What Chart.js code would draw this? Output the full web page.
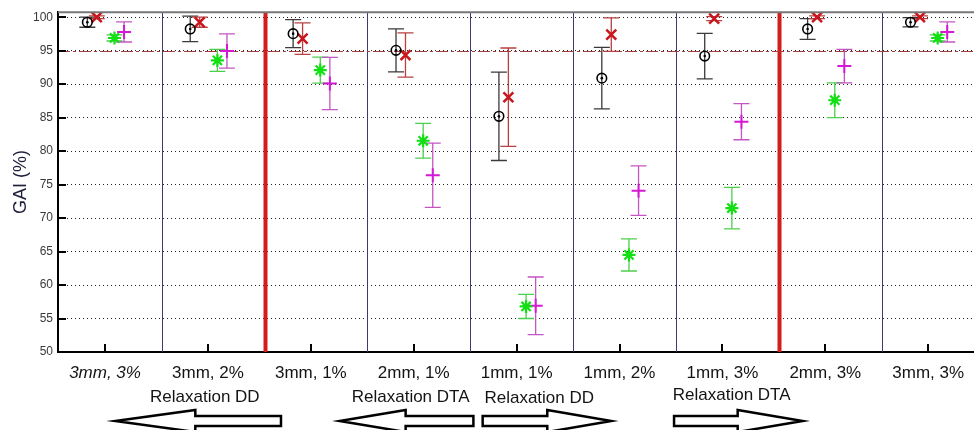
<!DOCTYPE html>
<html>
<head>
<meta charset="utf-8">
<script src="https://cdn.jsdelivr.net/npm/chart.js@4.4.0/dist/chart.umd.min.js"></script>
<style>
  body { margin: 0; background: #fff; }
  #wrap { width: 974px; height: 430px; position: relative; }
</style>
</head>
<body>
<div id="wrap"><canvas id="Chart"></canvas></div>
<script>
categories = ["3mm, 3%", "3mm, 2%", "3mm, 1%", "2mm, 1%", "1mm, 1%", "1mm, 2%", "1mm, 3%", "2mm, 3%", "3mm, 3%"];
yTicks = [50, 55, 60, 65, 70, 75, 80, 85, 90, 95, 100];

blackValues = [99.25, 98.25, 97.55, 95.05, 85.2, 90.9, 94.2, 98.25, 99.25];
blackErr = [0.75, 1.9, 2.1, 3.2, 6.6, 4.6, 3.4, 1.55, 0.7];
redValues = [100, 99.25, 96.8, 94.35, 88.05, 97.4, 99.8, 100, 100];
redErr = [0.2, 0.75, 2.35, 3.3, 7.35, 2.5, 0.3, 0.2, 0.2];
greenValues = [96.9, 93.55, 92.1, 81.55, 56.8, 64.5, 71.5, 87.6, 96.9];
greenErr = [0.45, 1.65, 1.95, 2.6, 1.8, 2.4, 3.1, 2.6, 0.45];
magentaValues = [97.8, 94.95, 90.1, 76.4, 56.9, 74.1, 84.4, 92.7, 97.8];
magentaErr = [1.5, 2.55, 3.9, 4.8, 4.3, 3.7, 2.7, 2.5, 1.5];

threshold = 95;
separators = [0.55, 1.55, 2.55, 3.55, 4.55, 5.55, 6.55, 7.55];
thickSeparators = [1.55, 6.55];

relaxLabels = ["Relaxation DD", "Relaxation DTA", "Relaxation DD", "Relaxation DTA"];

const FONT = "'Liberation Sans', Arial, sans-serif";

// offsets of the four series inside a category
const offsets = [-0.172, -0.08, 0.092, 0.185];

function makePoints(values, k) {
    return values.map((v, i) => ({ x: i + offsets[k], y: v }));
}

const series = [
    { values: blackValues, err: blackErr, bar: "#3a3a3a" },
    { values: redValues, err: redErr, bar: "#b84040" },
    { values: greenValues, err: greenErr, bar: "#4ccf4c" },
    { values: magentaValues, err: magentaErr, bar: "#c456c4" }
];

const notes = [
    { at: 0.97, y: 397, from: 1.71, to: 0.1, head: 80 },
    { at: 2.97, y: 397, from: 3.58, to: 2.28, head: 66 },
    { at: 4.22, y: 398, from: 3.67, to: 4.92, head: 64 },
    { at: 6.09, y: 395, from: 5.53, to: 6.78, head: 65 }
];

const decorPlugin = {
    id: "decor",
    beforeDatasetsDraw(chart) {
        const ctx = chart.ctx;
        const x = chart.scales.x;
        const y = chart.scales.y;
        const area = chart.chartArea;
        ctx.save();

        separators.forEach(s => {
            const px = Math.round(x.getPixelForValue(s)) + 0.5;
            const thick = thickSeparators.includes(s);
            ctx.beginPath();
            ctx.lineWidth = thick ? 4 : 1;
            ctx.strokeStyle = thick ? "#d41c1c" : "#3c3c70";
            ctx.moveTo(px, area.top);
            ctx.lineTo(px, area.bottom);
            ctx.stroke();
        });

        const ty = Math.round(y.getPixelForValue(threshold)) + 0.5;
        ctx.beginPath();
        ctx.setLineDash([12, 3, 3, 3]);
        ctx.lineWidth = 1.2;
        ctx.strokeStyle = "#a83c3c";
        ctx.moveTo(area.left, ty);
        ctx.lineTo(area.right, ty);
        ctx.stroke();
        ctx.setLineDash([]);

        series.forEach((s, k) => {
            ctx.strokeStyle = s.bar;
            ctx.lineWidth = 1.3;
            s.values.forEach((v, i) => {
                const px = x.getPixelForValue(i + offsets[k]);
                const top = y.getPixelForValue(v + s.err[i]);
                const bot = y.getPixelForValue(v - s.err[i]);
                ctx.beginPath();
                ctx.moveTo(px, top);
                ctx.lineTo(px, bot);
                ctx.moveTo(px - 8, top);
                ctx.lineTo(px + 8, top);
                ctx.moveTo(px - 8, bot);
                ctx.lineTo(px + 8, bot);
                ctx.stroke();
            });
        });
        ctx.restore();
    },
    afterDraw(chart) {
        const ctx = chart.ctx;
        const x = chart.scales.x;
        const y = chart.scales.y;
        const area = chart.chartArea;
        ctx.save();

        // top frame line
        ctx.beginPath();
        ctx.strokeStyle = "#777";
        ctx.lineWidth = 2;
        ctx.moveTo(area.left, area.top);
        ctx.lineTo(area.right, area.top);
        ctx.stroke();

        // inside tick marks
        ctx.strokeStyle = "#000";
        ctx.lineWidth = 2;
        yTicks.forEach(t => {
            const py = Math.round(y.getPixelForValue(t));
            ctx.beginPath();
            ctx.moveTo(area.left, py);
            ctx.lineTo(area.left + 8, py);
            ctx.stroke();
        });
        categories.forEach((c, i) => {
            const px = Math.round(x.getPixelForValue(i));
            ctx.beginPath();
            ctx.moveTo(px, area.bottom);
            ctx.lineTo(px, area.bottom - 8);
            ctx.stroke();
        });

        // relaxation notes and arrows
        ctx.font = "17px " + FONT;
        ctx.textAlign = "center";
        ctx.textBaseline = "middle";
        notes.forEach((n, i) => {
            ctx.fillStyle = "#141414";
            ctx.fillText(relaxLabels[i], x.getPixelForValue(n.at), n.y);
            drawArrow(ctx, x.getPixelForValue(n.from), x.getPixelForValue(n.to), 421, n.head);
        });
        ctx.restore();
    }
};

function drawArrow(ctx, tail, tip, cy, headLen) {
    const dir = tip > tail ? 1 : -1;
    const base = tip - dir * headLen;
    ctx.beginPath();
    ctx.moveTo(tail, cy - 5);
    ctx.lineTo(base, cy - 5);
    ctx.lineTo(base, cy - 11);
    ctx.lineTo(tip, cy);
    ctx.lineTo(base, cy + 11);
    ctx.lineTo(base, cy + 5);
    ctx.lineTo(tail, cy + 5);
    ctx.closePath();
    ctx.fillStyle = "#fff";
    ctx.fill();
    ctx.lineWidth = 2.5;
    ctx.strokeStyle = "#000";
    ctx.stroke();
}

function createChart() {
    new Chart("Chart", {
        type: "scatter",
        data: {
            datasets: [
                {
                    data: makePoints(blackValues, 0),
                    pointStyle: "circle",
                    pointRadius: 4.8,
                    borderColor: "#000",
                    backgroundColor: "rgba(0,0,0,0)",
                    borderWidth: 1.6
                },
                {
                    data: makePoints(blackValues, 0),
                    pointStyle: "circle",
                    pointRadius: 1.3,
                    borderColor: "#000",
                    backgroundColor: "#000",
                    borderWidth: 0
                },
                {
                    data: makePoints(redValues, 1),
                    pointStyle: "crossRot",
                    pointRadius: 7,
                    borderColor: "#c8161c",
                    borderWidth: 2.5
                },
                {
                    data: makePoints(greenValues, 2),
                    pointStyle: "star",
                    pointRadius: 6.5,
                    borderColor: "#12e012",
                    borderWidth: 2.2
                },
                {
                    data: makePoints(magentaValues, 3),
                    pointStyle: "cross",
                    pointRadius: 7,
                    borderColor: "#d418d4",
                    borderWidth: 2
                }
            ]
        },
        options: {
            responsive: true,
            maintainAspectRatio: false,
            animation: false,
            events: [],
            layout: { autoPadding: false, padding: { top: 11, left: 0, right: 0, bottom: 0 } },
            plugins: { legend: { display: false }, tooltip: { enabled: false } },
            scales: {
                x: {
                    type: "linear",
                    min: -0.457,
                    max: 8.445,
                    afterBuildTicks: scale => { scale.ticks = categories.map((c, i) => ({ value: i })); },
                    afterFit: scale => {
                        scale.height = 78;
                        scale.paddingLeft = 0;
                        scale.paddingRight = 0;
                    },
                    grid: { display: false, drawTicks: false },
                    border: { display: true, color: "#000", width: 2 },
                    ticks: {
                        autoSkip: false,
                        maxRotation: 0,
                        padding: 11,
                        color: "#141414",
                        font: ctx => ({ family: FONT, size: 17, style: ctx.index === 0 ? "italic" : "normal" }),
                        callback: v => categories[v]
                    }
                },
                y: {
                    min: 50,
                    max: 100.75,
                    afterBuildTicks: scale => { scale.ticks = yTicks.map(v => ({ value: v })); },
                    afterFit: scale => { scale.width = 58; },
                    grid: { color: "#222", lineWidth: 1, drawTicks: false },
                    border: { display: true, color: "#000", width: 2, dash: [1, 3] },
                    ticks: { padding: 5, color: "#3a3a3a", font: { family: FONT, size: 12 } },
                    title: {
                        display: true,
                        text: "GAI (%)",
                        color: "#1e1e3c",
                        font: { family: FONT, size: 18 },
                        padding: { top: 10, bottom: 0 }
                    }
                }
            }
        },
        plugins: [decorPlugin]
    });
}

createChart();
</script>
</body>
</html>
